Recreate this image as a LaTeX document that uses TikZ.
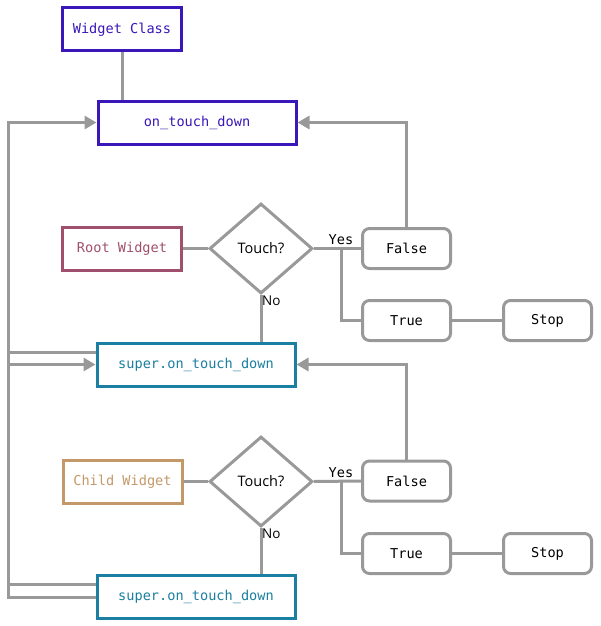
\documentclass[tikz,border=0pt]{standalone}
\usepackage{fontspec}
\setmonofont{DejaVu Sans Mono}
\setsansfont{Open Sans}
\usepackage{tikz}
\usetikzlibrary{shapes.geometric , arrows.meta}
\definecolor{classcol}{HTML}{3A17B9}
\definecolor{rootcol}{HTML}{A0506C}
\definecolor{childcol}{HTML}{C4996A}
\definecolor{supercol}{HTML}{1A7FA0}
\definecolor{linecol}{HTML}{999999}

\begin{document}
\begin{tikzpicture}[x = 1pt , y = -1pt,
    box/.style = {draw , fill = white , line width = 3pt , inner sep = 0pt ,
        font = \ttfamily\fontsize{13.6}{15}\selectfont},
    widget/.style = {box , minimum width = 119pt , minimum height = 43pt},
    handler/.style = {box , draw = #1 , text = #1 , minimum width = 198pt , minimum height = 43pt},
    result/.style = {box , draw = linecol , rounded corners = 7pt , minimum width = 88pt , minimum height = 40pt},
    test/.style = {diamond , draw = linecol , line width = 3pt , inner sep = 0pt , aspect = 1.14 ,
        minimum width = 103pt , minimum height = 90pt , font = \sffamily\fontsize{14.5}{16}\selectfont},
    link/.style = {draw = linecol , line width = 3pt},
    flow/.style = {link , -{Triangle[length = 12pt , width = 13pt]}},
    answer/.style = {inner sep = 1pt , font = \ttfamily\fontsize{13.6}{15}\selectfont}]
    \useasboundingbox (0,0) rectangle (600,626);

    % rail on the left
    \coordinate (rail) at (8,0);

    % first level
    \node[widget , draw = classcol , text = classcol] (wclass) at (122,29.5) {Widget Class};
    \node[handler = classcol] (otd) at (197,122.5) {on\_touch\_down};

    \node[widget , draw = rootcol , text = rootcol] (root) at (122,248.5) {Root Widget};
    \node[test] (touchA) at (261,248.5) {Touch?};
    \node[result] (falseA) at (406.5,248.5) {False};
    \node[result] (trueA) at (406.5,320.5) {True};
    \node[result] (stopA) at (547.5,320.5) {Stop};
    \node[handler = supercol] (superA) at (196,364.5) {super.on\_touch\_down};

    % second level
    \node[widget , draw = childcol , text = childcol] (child) at (122.5,481.5) {Child Widget};
    \node[test] (touchB) at (261,481.5) {Touch?};
    \node[result] (falseB) at (406.5,481) {False};
    \node[result] (trueB) at (406.5,553.5) {True};
    \node[result] (stopB) at (547.5,553.5) {Stop};
    \node[handler = supercol] (superB) at (196,597) {super.on\_touch\_down};

    % connectors, first level
    \draw[link] (wclass.south) -- (wclass.south |- otd.north);
    \draw[link] (root.east) -- (touchA.west);
    \draw[link] (touchA.east) -- (falseA.west);
    \draw[link] (touchA.east) ++(27,0) coordinate (forkA) |- (trueA.west);
    \draw[link] (trueA.east) -- (stopA.west);
    \draw[link] (touchA.south) -- (touchA.south |- superA.north);
    \draw[flow] (falseA.north) |- (otd.east);
    \node[answer , anchor = south] at ([yshift = 3pt]forkA) {Yes};
    \node[answer , anchor = north west , font = \sffamily\fontsize{13.5}{15}\selectfont] at (touchA.south) {No};

    % connectors, second level
    \draw[link] (child.east) -- (touchB.west);
    \draw[link] (touchB.east) -- (falseB.west);
    \draw[link] (touchB.east) ++(27,0) coordinate (forkB) |- (trueB.west);
    \draw[link] (trueB.east) -- (stopB.west);
    \draw[link] (touchB.south) -- (touchB.south |- superB.north);
    \draw[flow] (falseB.north) |- (superA.east);
    \node[answer , anchor = south] at ([yshift = 3pt]forkB) {Yes};
    \node[answer , anchor = north west , font = \sffamily\fontsize{13.5}{15}\selectfont] at (touchB.south) {No};

    % returns along the left rail
    \draw[link] ([yshift = 12pt]superA.west) -- ([yshift = 12pt]superA.west -| rail) -- (rail |- otd.west);
    \draw[flow] ([yshift = 13pt]superB.west) -- ([yshift = 13pt]superB.west -| rail) -- (rail |- superA.west) -- (superA.west);
    \draw[flow] (superB.west) -- (superB.west -| rail) -- (rail |- otd.west) -- (otd.west);
\end{tikzpicture}
\end{document}
